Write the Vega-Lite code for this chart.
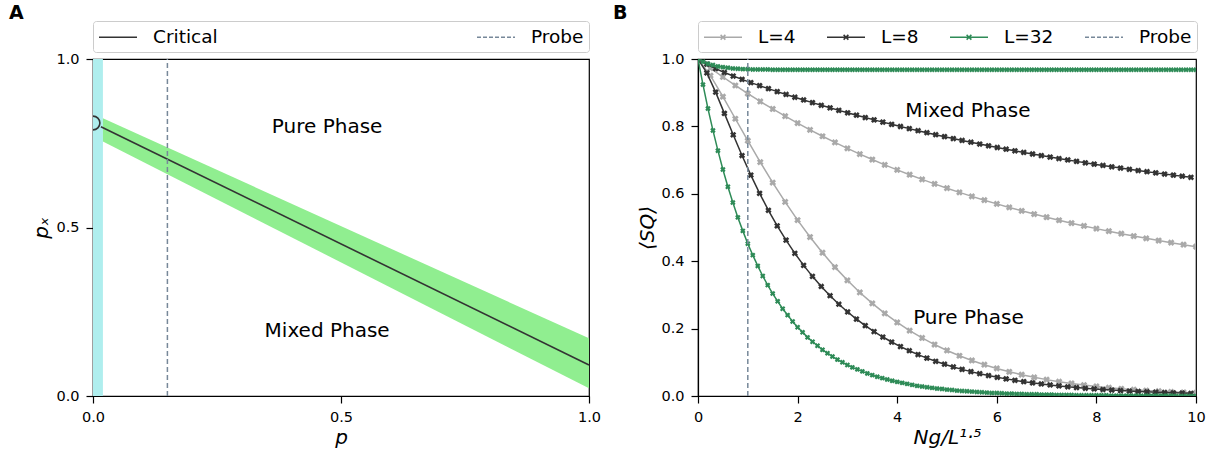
{
  "$schema": "https://vega.github.io/schema/vega-lite/v6.json",
  "background": "white",
  "padding": {"left": 8, "top": 2, "right": 8, "bottom": 4},
  "config": {
    "font": "DejaVu Sans",
    "view": {"stroke": "black", "strokeWidth": 1.2},
    "axis": {
      "grid": false,
      "domainColor": "black",
      "domainWidth": 1.2,
      "tickColor": "black",
      "tickWidth": 1.2,
      "tickSize": 7,
      "labelColor": "black",
      "labelFontSize": 14.5,
      "labelPadding": 7,
      "labelFlush": false,
      "labelOverlap": false,
      "titleColor": "black",
      "titleFontSize": 20,
      "titleFontWeight": "normal",
      "titleFontStyle": "italic"
    },
    "legend": {
      "labelFontSize": 18.5,
      "labelColor": "black",
      "symbolStrokeWidth": 1.6,
      "symbolType": "stroke",
      "symbolSize": 400,
      "labelOffset": 33,
      "padding": 5,
      "strokeColor": "#cccccc",
      "fillColor": "white",
      "cornerRadius": 3
    },
    "title": {"fontSize": 19, "fontWeight": "bold", "anchor": "start", "color": "black"}
  },
  "resolve": {"scale": {"color": "independent"}, "legend": {"color": "independent"}},
  "datasets": {
    "l4_mixed": [{"x":0,"y":1},{"x":0.25,"y":0.9728},{"x":0.5,"y":0.9466},{"x":0.75,"y":0.9214},{"x":1,"y":0.8973},{"x":1.25,"y":0.874},{"x":1.5,"y":0.8517},{"x":1.75,"y":0.8303},{"x":2,"y":0.8096},{"x":2.25,"y":0.7898},{"x":2.5,"y":0.7708},{"x":2.75,"y":0.7524},{"x":3,"y":0.7348},{"x":3.25,"y":0.7179},{"x":3.5,"y":0.7017},{"x":3.75,"y":0.686},{"x":4,"y":0.671},{"x":4.25,"y":0.6566},{"x":4.5,"y":0.6427},{"x":4.75,"y":0.6294},{"x":5,"y":0.6166},{"x":5.25,"y":0.6043},{"x":5.5,"y":0.5924},{"x":5.75,"y":0.5811},{"x":6,"y":0.5701},{"x":6.25,"y":0.5596},{"x":6.5,"y":0.5495},{"x":6.75,"y":0.5398},{"x":7,"y":0.5305},{"x":7.25,"y":0.5215},{"x":7.5,"y":0.5129},{"x":7.75,"y":0.5046},{"x":8,"y":0.4967},{"x":8.25,"y":0.489},{"x":8.5,"y":0.4817},{"x":8.75,"y":0.4746},{"x":9,"y":0.4678},{"x":9.25,"y":0.4613},{"x":9.5,"y":0.455},{"x":9.75,"y":0.449},{"x":10,"y":0.4432}],
    "l4_pure": [{"x":0,"y":1},{"x":0.25,"y":0.9506},{"x":0.5,"y":0.8881},{"x":0.75,"y":0.8227},{"x":1,"y":0.7575},{"x":1.25,"y":0.6939},{"x":1.5,"y":0.6332},{"x":1.75,"y":0.5758},{"x":2,"y":0.5219},{"x":2.25,"y":0.4717},{"x":2.5,"y":0.4252},{"x":2.75,"y":0.3824},{"x":3,"y":0.3432},{"x":3.25,"y":0.3073},{"x":3.5,"y":0.2747},{"x":3.75,"y":0.245},{"x":4,"y":0.2182},{"x":4.25,"y":0.194},{"x":4.5,"y":0.1722},{"x":4.75,"y":0.1527},{"x":5,"y":0.1351},{"x":5.25,"y":0.1194},{"x":5.5,"y":0.1054},{"x":5.75,"y":0.0929},{"x":6,"y":0.0818},{"x":6.25,"y":0.0719},{"x":6.5,"y":0.0632},{"x":6.75,"y":0.0554},{"x":7,"y":0.0486},{"x":7.25,"y":0.0425},{"x":7.5,"y":0.0372},{"x":7.75,"y":0.0325},{"x":8,"y":0.0284},{"x":8.25,"y":0.0247},{"x":8.5,"y":0.0215},{"x":8.75,"y":0.0187},{"x":9,"y":0.0163},{"x":9.25,"y":0.0142},{"x":9.5,"y":0.0123},{"x":9.75,"y":0.0106},{"x":10,"y":0.0092}],
    "l8_mixed": [{"x":0,"y":1},{"x":0.177,"y":0.9845},{"x":0.354,"y":0.9714},{"x":0.53,"y":0.96},{"x":0.707,"y":0.9494},{"x":0.884,"y":0.9395},{"x":1.061,"y":0.93},{"x":1.237,"y":0.9209},{"x":1.414,"y":0.912},{"x":1.591,"y":0.9033},{"x":1.768,"y":0.8948},{"x":1.945,"y":0.8865},{"x":2.121,"y":0.8784},{"x":2.298,"y":0.8705},{"x":2.475,"y":0.8627},{"x":2.652,"y":0.8551},{"x":2.828,"y":0.8476},{"x":3.005,"y":0.8404},{"x":3.182,"y":0.8332},{"x":3.359,"y":0.8262},{"x":3.536,"y":0.8194},{"x":3.712,"y":0.8127},{"x":3.889,"y":0.8061},{"x":4.066,"y":0.7997},{"x":4.243,"y":0.7934},{"x":4.419,"y":0.7873},{"x":4.596,"y":0.7812},{"x":4.773,"y":0.7753},{"x":4.95,"y":0.7696},{"x":5.127,"y":0.7639},{"x":5.303,"y":0.7584},{"x":5.48,"y":0.753},{"x":5.657,"y":0.7477},{"x":5.834,"y":0.7425},{"x":6.01,"y":0.7374},{"x":6.187,"y":0.7324},{"x":6.364,"y":0.7275},{"x":6.541,"y":0.7228},{"x":6.718,"y":0.7181},{"x":6.894,"y":0.7135},{"x":7.071,"y":0.709},{"x":7.248,"y":0.7046},{"x":7.425,"y":0.7004},{"x":7.601,"y":0.6962},{"x":7.778,"y":0.692},{"x":7.955,"y":0.688},{"x":8.132,"y":0.6841},{"x":8.309,"y":0.6802},{"x":8.485,"y":0.6764},{"x":8.662,"y":0.6727},{"x":8.839,"y":0.6691},{"x":9.016,"y":0.6656},{"x":9.192,"y":0.6621},{"x":9.369,"y":0.6587},{"x":9.546,"y":0.6554},{"x":9.723,"y":0.6521},{"x":9.899,"y":0.6489}],
    "l8_pure": [{"x":0,"y":1},{"x":0.177,"y":0.9587},{"x":0.354,"y":0.9016},{"x":0.53,"y":0.8386},{"x":0.707,"y":0.7751},{"x":0.884,"y":0.7136},{"x":1.061,"y":0.6555},{"x":1.237,"y":0.6014},{"x":1.414,"y":0.5511},{"x":1.591,"y":0.5049},{"x":1.768,"y":0.4625},{"x":1.945,"y":0.4234},{"x":2.121,"y":0.3877},{"x":2.298,"y":0.355},{"x":2.475,"y":0.325},{"x":2.652,"y":0.2975},{"x":2.828,"y":0.2723},{"x":3.005,"y":0.2493},{"x":3.182,"y":0.2282},{"x":3.359,"y":0.2089},{"x":3.536,"y":0.1912},{"x":3.712,"y":0.175},{"x":3.889,"y":0.1602},{"x":4.066,"y":0.1467},{"x":4.243,"y":0.1343},{"x":4.419,"y":0.1229},{"x":4.596,"y":0.1125},{"x":4.773,"y":0.103},{"x":4.95,"y":0.0943},{"x":5.127,"y":0.0863},{"x":5.303,"y":0.079},{"x":5.48,"y":0.0723},{"x":5.657,"y":0.0662},{"x":5.834,"y":0.0606},{"x":6.01,"y":0.0555},{"x":6.187,"y":0.0508},{"x":6.364,"y":0.0465},{"x":6.541,"y":0.0426},{"x":6.718,"y":0.039},{"x":6.894,"y":0.0357},{"x":7.071,"y":0.0327},{"x":7.248,"y":0.0299},{"x":7.425,"y":0.0274},{"x":7.601,"y":0.025},{"x":7.778,"y":0.0229},{"x":7.955,"y":0.021},{"x":8.132,"y":0.0192},{"x":8.309,"y":0.0176},{"x":8.485,"y":0.0161},{"x":8.662,"y":0.0147},{"x":8.839,"y":0.0135},{"x":9.016,"y":0.0123},{"x":9.192,"y":0.0113},{"x":9.369,"y":0.0104},{"x":9.546,"y":0.0095},{"x":9.723,"y":0.0087},{"x":9.899,"y":0.0079}],
    "l32_mixed": [{"x":0,"y":1},{"x":0.1,"y":0.992},{"x":0.2,"y":0.986},{"x":0.3,"y":0.982},{"x":0.4,"y":0.978},{"x":0.5,"y":0.976},{"x":0.6,"y":0.974},{"x":0.7,"y":0.972},{"x":0.8,"y":0.971},{"x":0.9,"y":0.97},{"x":1,"y":0.97},{"x":1.1,"y":0.969},{"x":1.2,"y":0.969},{"x":1.3,"y":0.969},{"x":1.4,"y":0.969},{"x":1.5,"y":0.968},{"x":1.6,"y":0.968},{"x":1.7,"y":0.968},{"x":1.8,"y":0.968},{"x":1.9,"y":0.968},{"x":2,"y":0.968},{"x":2.1,"y":0.968},{"x":2.2,"y":0.968},{"x":2.3,"y":0.968},{"x":2.4,"y":0.968},{"x":2.5,"y":0.968},{"x":2.6,"y":0.968},{"x":2.7,"y":0.968},{"x":2.8,"y":0.968},{"x":2.9,"y":0.968},{"x":3,"y":0.968},{"x":3.1,"y":0.968},{"x":3.2,"y":0.968},{"x":3.3,"y":0.968},{"x":3.4,"y":0.968},{"x":3.5,"y":0.968},{"x":3.6,"y":0.968},{"x":3.7,"y":0.968},{"x":3.8,"y":0.968},{"x":3.9,"y":0.968},{"x":4,"y":0.968},{"x":4.1,"y":0.968},{"x":4.2,"y":0.968},{"x":4.3,"y":0.968},{"x":4.4,"y":0.968},{"x":4.5,"y":0.968},{"x":4.6,"y":0.968},{"x":4.7,"y":0.968},{"x":4.8,"y":0.968},{"x":4.9,"y":0.968},{"x":5,"y":0.968},{"x":5.1,"y":0.968},{"x":5.2,"y":0.968},{"x":5.3,"y":0.968},{"x":5.4,"y":0.968},{"x":5.5,"y":0.968},{"x":5.6,"y":0.968},{"x":5.7,"y":0.968},{"x":5.8,"y":0.968},{"x":5.9,"y":0.968},{"x":6,"y":0.968},{"x":6.1,"y":0.968},{"x":6.2,"y":0.968},{"x":6.3,"y":0.968},{"x":6.4,"y":0.968},{"x":6.5,"y":0.968},{"x":6.6,"y":0.968},{"x":6.7,"y":0.968},{"x":6.8,"y":0.968},{"x":6.9,"y":0.968},{"x":7,"y":0.968},{"x":7.1,"y":0.968},{"x":7.2,"y":0.968},{"x":7.3,"y":0.968},{"x":7.4,"y":0.968},{"x":7.5,"y":0.968},{"x":7.6,"y":0.968},{"x":7.7,"y":0.968},{"x":7.8,"y":0.968},{"x":7.9,"y":0.968},{"x":8,"y":0.968},{"x":8.1,"y":0.968},{"x":8.2,"y":0.968},{"x":8.3,"y":0.968},{"x":8.4,"y":0.968},{"x":8.5,"y":0.968},{"x":8.6,"y":0.968},{"x":8.7,"y":0.968},{"x":8.8,"y":0.968},{"x":8.9,"y":0.968},{"x":9,"y":0.968},{"x":9.1,"y":0.968},{"x":9.2,"y":0.968},{"x":9.3,"y":0.968},{"x":9.4,"y":0.968},{"x":9.5,"y":0.968},{"x":9.6,"y":0.968},{"x":9.7,"y":0.968},{"x":9.8,"y":0.968},{"x":9.9,"y":0.968},{"x":10,"y":0.968}],
    "l32_pure": [{"x":0,"y":1},{"x":0.1,"y":0.924},{"x":0.2,"y":0.853},{"x":0.3,"y":0.788},{"x":0.4,"y":0.728},{"x":0.5,"y":0.672},{"x":0.6,"y":0.621},{"x":0.7,"y":0.574},{"x":0.8,"y":0.53},{"x":0.9,"y":0.49},{"x":1,"y":0.452},{"x":1.1,"y":0.418},{"x":1.2,"y":0.386},{"x":1.3,"y":0.356},{"x":1.4,"y":0.329},{"x":1.5,"y":0.304},{"x":1.6,"y":0.281},{"x":1.7,"y":0.259},{"x":1.8,"y":0.24},{"x":1.9,"y":0.221},{"x":2,"y":0.204},{"x":2.1,"y":0.189},{"x":2.2,"y":0.174},{"x":2.3,"y":0.161},{"x":2.4,"y":0.149},{"x":2.5,"y":0.137},{"x":2.6,"y":0.127},{"x":2.7,"y":0.117},{"x":2.8,"y":0.108},{"x":2.9,"y":0.1},{"x":3,"y":0.092},{"x":3.1,"y":0.085},{"x":3.2,"y":0.079},{"x":3.3,"y":0.073},{"x":3.4,"y":0.067},{"x":3.5,"y":0.062},{"x":3.6,"y":0.057},{"x":3.7,"y":0.053},{"x":3.8,"y":0.049},{"x":3.9,"y":0.045},{"x":4,"y":0.042},{"x":4.1,"y":0.039},{"x":4.2,"y":0.036},{"x":4.3,"y":0.033},{"x":4.4,"y":0.03},{"x":4.5,"y":0.028},{"x":4.6,"y":0.026},{"x":4.7,"y":0.024},{"x":4.8,"y":0.022},{"x":4.9,"y":0.021},{"x":5,"y":0.019},{"x":5.1,"y":0.018},{"x":5.2,"y":0.016},{"x":5.3,"y":0.015},{"x":5.4,"y":0.014},{"x":5.5,"y":0.013},{"x":5.6,"y":0.012},{"x":5.7,"y":0.011},{"x":5.8,"y":0.01},{"x":5.9,"y":0.009},{"x":6,"y":0.009},{"x":6.1,"y":0.008},{"x":6.2,"y":0.007},{"x":6.3,"y":0.007},{"x":6.4,"y":0.006},{"x":6.5,"y":0.006},{"x":6.6,"y":0.005},{"x":6.7,"y":0.005},{"x":6.8,"y":0.005},{"x":6.9,"y":0.004},{"x":7,"y":0.004},{"x":7.1,"y":0.004},{"x":7.2,"y":0.003},{"x":7.3,"y":0.003},{"x":7.4,"y":0.003},{"x":7.5,"y":0.003},{"x":7.6,"y":0.002},{"x":7.7,"y":0.002},{"x":7.8,"y":0.002},{"x":7.9,"y":0.002},{"x":8,"y":0.002},{"x":8.1,"y":0.002},{"x":8.2,"y":0.002},{"x":8.3,"y":0.001},{"x":8.4,"y":0.001},{"x":8.5,"y":0.001},{"x":8.6,"y":0.001},{"x":8.7,"y":0.001},{"x":8.8,"y":0.001},{"x":8.9,"y":0.001},{"x":9,"y":0.001},{"x":9.1,"y":0.001},{"x":9.2,"y":0.001},{"x":9.3,"y":0.001},{"x":9.4,"y":0.001},{"x":9.5,"y":0.001},{"x":9.6,"y":0},{"x":9.7,"y":0},{"x":9.8,"y":0},{"x":9.9,"y":0},{"x":10,"y":0}]
  },
  "spacing": 10,
  "hconcat": [
    {
      "title": {"text": "A", "frame": "bounds", "dx": -23, "offset": -2},
      "width": 496,
      "height": 337,
      "encoding": {
        "x": {"field": "p", "type": "quantitative", "scale": {"domain": [0, 1], "nice": false}, "axis": {"values": [0, 0.5, 1], "format": ".1f", "title": "p", "titlePadding": 4}},
        "y": {"field": "px", "type": "quantitative", "scale": {"domain": [0, 1], "nice": false}, "axis": {"values": [0, 0.5, 1], "format": ".1f", "title": "pₓ", "titlePadding": 4}}
      },
      "layer": [
        {
          "data": {"values": [{"p": 0, "p2": 0.02, "px": 0, "px2": 1}]},
          "mark": {"type": "rect", "color": "#afeeee"},
          "encoding": {"x2": {"field": "p2"}, "y2": {"field": "px2"}}
        },
        {
          "data": {"values": [{"p": 0.02, "px": 0.755, "px2": 0.824}, {"p": 1, "px": 0.023, "px2": 0.171}]},
          "mark": {"type": "area", "color": "#90ee90"},
          "encoding": {"y2": {"field": "px2"}}
        },
        {
          "data": {"values": [{"p": 0.016, "px": 0.799}, {"p": 1, "px": 0.092}]},
          "mark": {"type": "line", "strokeWidth": 1.6},
          "encoding": {
            "color": {
              "datum": "Critical",
              "scale": {"domain": ["Critical", "Probe"], "range": ["#333333", "#778899"]},
              "legend": {
                "title": null,
                "orient": "none",
                "direction": "horizontal",
                "legendX": 0,
                "legendY": -38,
                "columnPadding": 255,
                "encode": {
                  "symbols": {
                    "update": {
                      "shape": {"value": "M-1,0H2.8"},
                      "strokeDash": {"signal": "datum.value === 'Probe' ? [4, 2] : [1, 0]"}
                    }
                  }
                }
              }
            }
          }
        },
        {
          "data": {"values": [{"p": 0, "px": 0.81}]},
          "mark": {"type": "point", "shape": "circle", "filled": false, "size": 190, "stroke": "#333333", "strokeWidth": 1.6, "opacity": 1, "clip": true}
        },
        {
          "data": {"values": [{"p": 0.15, "px": 0, "px2": 1}]},
          "mark": {"type": "rule", "strokeWidth": 1.5, "strokeDash": [5, 3]},
          "encoding": {"y2": {"field": "px2"}, "color": {"datum": "Probe"}}
        },
        {
          "data": {"values": [{"p": 0.472, "px": 0.798, "label": "Pure Phase"}, {"p": 0.472, "px": 0.193, "label": "Mixed Phase"}]},
          "mark": {"type": "text", "fontSize": 20, "color": "black"},
          "encoding": {"text": {"field": "label"}}
        }
      ]
    },
    {
      "title": {"text": "B", "frame": "bounds", "dx": -25, "offset": -2},
      "width": 498,
      "height": 337,
      "encoding": {
        "x": {"field": "x", "type": "quantitative", "scale": {"domain": [0, 10], "nice": false}, "axis": {"values": [0, 2, 4, 6, 8, 10], "format": "d", "title": "Ng/L¹·⁵", "titlePadding": 4}},
        "y": {"field": "y", "type": "quantitative", "scale": {"domain": [0, 1], "nice": false}, "axis": {"values": [0, 0.2, 0.4, 0.6, 0.8, 1], "format": ".1f", "title": "⟨SQ⟩", "titlePadding": 3}}
      },
      "layer": [
        {
          "data": {"name": "l4_mixed"},
          "mark": {"type": "line", "strokeWidth": 1.5, "clip": true, "point": {"shape": "cross", "angle": 45, "size": 46, "filled": true, "clip": true}},
          "encoding": {
            "color": {
              "datum": "L=4",
              "scale": {"domain": ["L=4", "L=8", "L=32", "Probe"], "range": ["#a9a9a9", "#333333", "#2e8b57", "#778899"]},
              "legend": {
                "title": null,
                "orient": "none",
                "direction": "horizontal",
                "legendX": 0,
                "legendY": -38,
                "columnPadding": 27,
                "symbolType": "stroke",
                "encode": {
                  "symbols": {
                    "update": {
                      "shape": {"signal": "datum.value === 'Probe' ? 'M-1,0H2.8' : 'M-1,0H2.8M0.66,-0.24L1.14,0.24M0.66,0.24L1.14,-0.24'"},
                      "strokeDash": {"signal": "datum.value === 'Probe' ? [4, 2] : [1, 0]"},
                      "fill": {"value": "transparent"}
                    }
                  }
                }
              }
            }
          }
        },
        {
          "data": {"name": "l4_pure"},
          "mark": {"type": "line", "strokeWidth": 1.5, "clip": true, "point": {"shape": "cross", "angle": 45, "size": 46, "filled": true, "clip": true}},
          "encoding": {"color": {"datum": "L=4"}}
        },
        {
          "data": {"name": "l8_mixed"},
          "mark": {"type": "line", "strokeWidth": 1.5, "clip": true, "point": {"shape": "cross", "angle": 45, "size": 40, "filled": true, "clip": true}},
          "encoding": {"color": {"datum": "L=8"}}
        },
        {
          "data": {"name": "l8_pure"},
          "mark": {"type": "line", "strokeWidth": 1.5, "clip": true, "point": {"shape": "cross", "angle": 45, "size": 40, "filled": true, "clip": true}},
          "encoding": {"color": {"datum": "L=8"}}
        },
        {
          "data": {"name": "l32_mixed"},
          "mark": {"type": "line", "strokeWidth": 1.5, "clip": true, "point": {"shape": "cross", "angle": 45, "size": 30, "filled": true, "clip": true}},
          "encoding": {"color": {"datum": "L=32"}}
        },
        {
          "data": {"name": "l32_pure"},
          "mark": {"type": "line", "strokeWidth": 1.5, "clip": true, "point": {"shape": "cross", "angle": 45, "size": 30, "filled": true, "clip": true}},
          "encoding": {"color": {"datum": "L=32"}}
        },
        {
          "data": {"values": [{"x": 1, "y": 0, "y2": 1}]},
          "mark": {"type": "rule", "strokeWidth": 1.5, "strokeDash": [5, 3]},
          "encoding": {"y2": {"field": "y2"}, "color": {"datum": "Probe"}}
        },
        {
          "data": {"values": [{"x": 5.42, "y": 0.845, "label": "Mixed Phase"}, {"x": 5.43, "y": 0.232, "label": "Pure Phase"}]},
          "mark": {"type": "text", "fontSize": 20, "color": "black"},
          "encoding": {"text": {"field": "label"}}
        }
      ]
    }
  ]
}
